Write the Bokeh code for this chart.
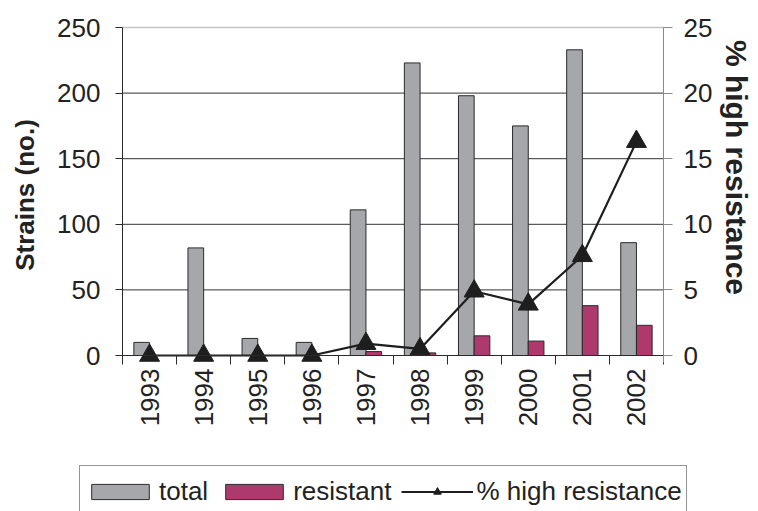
import math
from bokeh.plotting import figure
from bokeh.models import (ColumnDataSource, Range1d, LinearAxis, FixedTicker,
                          Legend, LegendItem)
from bokeh.transform import dodge
from bokeh.embed import file_html
from bokeh.resources import INLINE

years = [1993, 1994, 1995, 1996, 1997, 1998, 1999, 2000, 2001, 2002]
total = [10, 82, 13, 10, 111, 223, 198, 175, 233, 86]
resistant = [0, 0, 0, 0, 3, 2, 15, 11, 38, 23]
pct_high = [0, 0, 0, 0, 0.9, 0.5, 4.9, 3.9, 7.6, 16.3]

left_ticks = [0, 50, 100, 150, 200, 250]
right_ticks = [0, 5, 10, 15, 20, 25]

FONT = "Liberation Sans"
TXT = "#222222"
GRAY = "#a6a7ab"
PINK = "#ae3a6d"
EDGE = "#2a2a2a"

# ---- layout in pixels: the frame fills the whole canvas, axes sit at fixed spots
W, H = 758, 511
PLOT_L, PLOT_R = 122, 663      # category axis extent
PLOT_T, ZERO_Y = 27, 355       # value 250 row, value 0 row
RIGHT_TITLE_CY = 167           # vertical centre of the right axis title

x_lo = years[0] - 0.5
x_hi = years[-1] + 0.5
px_per_year = (PLOT_R - PLOT_L) / (x_hi - x_lo)
left_max = left_ticks[-1]
right_max = right_ticks[-1]
ratio = right_max / left_max
px_per_unit = (ZERO_Y - PLOT_T) / left_max

x_range = Range1d(x_lo - PLOT_L / px_per_year, x_hi + (W - PLOT_R) / px_per_year)
y_start = -(H - ZERO_Y) / px_per_unit
y_end = left_max + PLOT_T / px_per_unit

src = ColumnDataSource(dict(year=years, total=total, resistant=resistant, pct=pct_high))

p = figure(width=W, height=H, output_backend="svg", toolbar_location=None,
           x_range=x_range, y_range=Range1d(y_start, y_end), min_border=0)
p.extra_y_ranges = {"pct": Range1d(y_start * ratio, y_end * ratio)}
p.outline_line_color = None
p.background_fill_color = "white"
p.border_fill_color = "white"
p.xgrid.visible = False
p.ygrid.visible = False
p.title.visible = False

# horizontal gridlines, only across the plot area
inner = left_ticks[1:-1]
p.segment(x0=[x_lo] * len(inner), x1=[x_hi] * len(inner), y0=inner, y1=inner,
          line_color="#333333", line_width=1, level="underlay")
p.segment(x0=[x_lo], x1=[x_hi], y0=[left_max], y1=[left_max],
          line_color="#c4c4c4", line_width=1.5, level="underlay")

# bars
b_total = p.vbar(x=dodge("year", -0.145), top="total", bottom=0, width=0.29, source=src,
                 fill_color=GRAY, line_color=EDGE, line_width=1)
b_res = p.vbar(x=dodge("year", 0.145), top="resistant", bottom=0, width=0.29, source=src,
               fill_color=PINK, line_color=EDGE, line_width=1)

# line + triangles
ln = p.line(x="year", y="pct", source=src, y_range_name="pct",
            line_color="#1e1e1e", line_width=2.2)
mk = p.scatter(x="year", y="pct", source=src, y_range_name="pct", marker="triangle",
               size=20, fill_color="#1e1e1e", line_color="#1e1e1e")

# x axis at value 0
xa = p.xaxis[0]
xa.fixed_location = 0
xa.bounds = (x_lo, x_hi)
boundaries = [y - 0.5 for y in years] + [x_hi]
xa.ticker = FixedTicker(ticks=years, minor_ticks=boundaries)
xa.axis_line_color = EDGE
xa.major_tick_line_color = None
xa.major_tick_out = 9
xa.major_tick_in = 0
xa.minor_tick_line_color = EDGE
xa.minor_tick_out = 9
xa.minor_tick_in = 0
xa.major_label_orientation = math.pi / 2
xa.major_label_standoff = 4
xa.major_label_text_font = FONT
xa.major_label_text_font_size = "26px"
xa.major_label_text_color = TXT

axis_ext = 7 / px_per_unit  # value-axis lines reach just below zero

# left axis
ya = p.yaxis[0]
ya.fixed_location = x_lo
ya.ticker = FixedTicker(ticks=left_ticks)
ya.bounds = (-axis_ext, left_max)
ya.minor_tick_line_color = None
ya.major_tick_out = 7
ya.major_tick_in = 0
ya.axis_line_color = EDGE
ya.major_tick_line_color = EDGE
ya.major_label_standoff = 15
ya.major_label_text_font = FONT
ya.major_label_text_font_size = "26px"
ya.major_label_text_color = TXT
ya.axis_label = "Strains (no.)"
ya.axis_label_text_font = FONT
ya.axis_label_text_font_size = "26px"
ya.axis_label_text_font_style = "bold"
ya.axis_label_text_color = TXT
ya.axis_label_standoff = 14

# right axis (ticks and labels)
ra = LinearAxis(y_range_name="pct", ticker=FixedTicker(ticks=right_ticks))
ra.fixed_location = x_hi
ra.bounds = (-axis_ext * ratio, right_max)
ra.minor_tick_line_color = None
ra.major_tick_out = 9
ra.major_tick_in = 0
ra.axis_line_color = "#8a8a8a"
ra.major_tick_line_color = "#8a8a8a"
ra.major_label_standoff = 11
ra.major_label_text_font = FONT
ra.major_label_text_font_size = "26px"
ra.major_label_text_color = TXT
p.add_layout(ra, "right")

# right axis title, centred a little higher than the axis (as in the source chart)
title_c = (ZERO_Y - RIGHT_TITLE_CY) / px_per_unit * ratio
title_half = right_max / 2
rt = LinearAxis(y_range_name="pct", ticker=FixedTicker(ticks=[]))
rt.fixed_location = x_hi
rt.bounds = (title_c - title_half, title_c + title_half)
rt.axis_line_color = None
rt.major_tick_line_color = None
rt.minor_tick_line_color = None
rt.major_tick_out = 0
rt.major_tick_in = 0
rt.axis_label = "% high resistance"
rt.axis_label_text_font = FONT
rt.axis_label_text_font_size = "30px"
rt.axis_label_text_font_style = "bold"
rt.axis_label_text_color = TXT
rt.axis_label_standoff = 56
p.add_layout(rt, "right")

legend = Legend(items=[LegendItem(label="total", renderers=[b_total]),
                       LegendItem(label="resistant", renderers=[b_res]),
                       LegendItem(label="% high resistance", renderers=[ln, mk])],
                orientation="horizontal", location=(79, -6),
                glyph_width=72, glyph_height=19, label_standoff=3, spacing=10,
                padding=4, margin=0, label_height=42,
                label_text_font=FONT, label_text_font_size="26px",
                label_text_color=TXT, border_line_color=EDGE, border_line_width=1,
                background_fill_color="white", background_fill_alpha=1)
p.add_layout(legend, "center")

open("out.html", "w").write(file_html(p, INLINE))
